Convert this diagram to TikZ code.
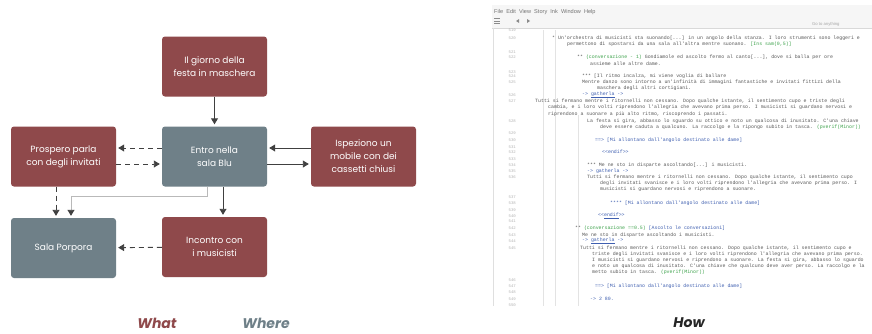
\documentclass[tikz,border=0pt]{standalone}
\usepackage{fontspec}
\usetikzlibrary{arrows.meta}
\newfontfamily\boxfont{Poppins}
\newfontfamily\codefont{Liberation Mono}
\newfontfamily\uifont{Liberation Sans}
\definecolor{whatred}{HTML}{8F494B}
\definecolor{wheregray}{HTML}{6F8088}
\definecolor{linkgray}{HTML}{404040}
\definecolor{inkgreen}{HTML}{3FA34D}
\definecolor{inkblue}{HTML}{3F5FB0}
\tikzset{
  what/.style={rectangle,rounded corners=3pt,fill=whatred,text=white,
    minimum width=105pt,minimum height=60pt,align=center,
    font=\boxfont\fontsize{9}{13}\selectfont},
  where/.style={what,fill=wheregray},
  link/.style={draw=linkgray,line width=0.9pt,shorten >=2pt,
    -{Triangle[width=7pt,length=6pt,color=linkgray]}},
  dlink/.style={link,dash pattern=on 5pt off 4pt},
  plink/.style={link,draw=gray!55},
  code/.style={anchor=west,inner sep=0pt,text=black!65,
    font=\codefont\fontsize{4.9}{5.5}\selectfont},
  lnum/.style={anchor=east,inner sep=0pt,text=black!30,
    font=\codefont\fontsize{4}{4}\selectfont},
  label/.style={font=\boxfont\bfseries\itshape\fontsize{14}{16}\selectfont}
}
\begin{document}
\begin{tikzpicture}[x=1pt,y=-1pt]
 \useasboundingbox[fill=white] (0,0) rectangle (872,333);
 % the plot graph
 \node[what]  (giorno)    at (214.5,66.5) {Il giorno della\\festa in maschera};
 \node[where] (entro)     at (214.5,156.5) {Entro nella\\sala Blu};
 \node[what]  (prospero)  at (63.5,156.5) {Prospero parla\\con degli invitati};
 \node[what]  (ispeziono) at (363.5,156.5) {Ispeziono un\\mobile con dei\\cassetti chiusi};
 \node[where] (porpora)   at (63.5,248) {Sala Porpora};
 \node[what]  (incontro)  at (214.5,247) {Incontro con\\i musicisti};
 \draw[link] (giorno) -- (entro);
 \draw[dlink] ([yshift=8.5pt]entro.west) -- ([yshift=8.5pt]prospero.east);
 \draw[dlink] ([yshift=-7.5pt]prospero.east) -- ([yshift=-7.5pt]entro.west);
 \draw[link] ([yshift=8.5pt]ispeziono.west) -- ([yshift=8.5pt]entro.east);
 \draw[link] ([yshift=-7.5pt]entro.east) -- ([yshift=-7.5pt]ispeziono.west);
 \draw[link] ([xshift=8.5pt]entro.south) -- ([xshift=8.5pt]incontro.north);
 \draw[plink] ([xshift=-7.5pt]entro.south) -- ++(0,10) -| ([xshift=7.5pt]porpora.north);
 \draw[dlink] ([xshift=-7.5pt]prospero.south) -- ([xshift=-7.5pt]porpora.north);
 \draw[dlink] (incontro) -- (porpora);
 \node[label,text=whatred]   (lwhat)  at (157,323) {What};
 \node[label,text=wheregray] (lwhere) at (266,323) {Where};
 \node[label,text=black!85]  (lhow)   at (689,323) {How};
 % the ink editor
 \fill[gray!7] (492,5) rectangle (872,28);
 \draw[gray!30,line width=0.4pt] (492,28) -- (872,28);
 \draw[gray!25,line width=0.4pt] (493,28) -- (493,306);
 \node[anchor=west,inner sep=0pt,text=black!55,font=\uifont\fontsize{5.6}{6}\selectfont]
   (menu) at (494,12) {File\ \ Edit\ \ View\ \ Story\ \ Ink\ \ Window\ \ Help};
 \draw[black!45,line width=0.5pt] (494,18.5) -- (500,18.5) (494,21) -- (500,21) (494,23.5) -- (500,23.5);
 \fill[black!45] (519,19) -- (519,23) -- (516,21) -- cycle;
 \fill[black!45] (527,19) -- (527,23) -- (530,21) -- cycle;
 \node[anchor=west,inner sep=0pt,text=black!35,font=\uifont\fontsize{4.2}{5}\selectfont]
   (goto) at (812,24) {Go to anything};
 \foreach \x/\ya in {543/30,555/30,578/115}
   \draw[gray!22,line width=0.3pt] (\x,\ya) -- (\x,306);
 \foreach \y/\n in {30/519,38/520,52/521,57/522,72/523,76/524,82/525,95/526,101/527,
   121/528,133/529,140/530,147/531,152/532,159/533,165/534,171/535,177/536,197/537,
   203/538,210/539,216/540,221/541,228/542,235/543,241/544,248/545,280/546,286/547,
   292/548,299/549,305/550}
   \node[lnum] at (516,\y) {\n};
 \node[code] at (552,38) {* Un'orchestra di musicisti sta suonando[...] in un angolo della stanza. I loro strumenti sono leggeri e};
 \node[code] at (567,44) {permettono di spostarsi da una sala all'altra mentre suonano. \textcolor{inkgreen}{[Ins sam(0,5)]}};
 \node[code] at (577,57) {** \textcolor{inkgreen}{(conversazione - 1)} Gondiamole ed ascolto fermo al canto[...], dove si balla per ore};
 \node[code] at (590,64) {assieme alle altre dame.};
 \node[code] at (582,76) {*** [Il ritmo incalza, mi viene voglia di ballare};
 \node[code] at (582,82) {Mentre danzo sono intorno a un'infinità di immagini fantastiche e invitati fittizi della};
 \node[code] at (597,88) {maschera degli altri cortigiani.};
 \node[code] at (582,95) {\textcolor{inkblue}{-> \underline{gatherla} ->}};
 \node[code] at (535,101) {Tutti si fermano mentre i ritornelli non cessano. Dopo qualche istante, il sentimento cupo e triste degli};
 \node[code] at (548,107) {cambia, e i loro volti riprendono l'allegria che avevano prima perso. I musicisti si guardano nervosi e};
 \node[code] at (548,114) {riprendono a suonare a più alto ritmo, riscoprendo i passati.};
 \node[code] at (587,121) {La festa si gira, abbasso lo sguardo su ottico e noto un qualcosa di inusitato. C'una chiave};
 \node[code] at (600,127) {deve essere caduta a qualcuno. La raccolgo e la ripongo subito in tasca. \textcolor{inkgreen}{(pverif(Minor))}};
 \node[code] at (595,140) {\textcolor{inkblue}{==> [Mi allontano dall'angolo destinato alle dame]}};
 \node[code] at (602,152) {\textcolor{inkblue}{<{}<endif>{}>}};
 \node[code] at (587,165) {*** Me ne sto in disparte ascoltando[...] i musicisti.};
 \node[code] at (587,171) {\textcolor{inkblue}{-> gatherla ->}};
 \node[code] at (587,177) {Tutti si fermano mentre i ritornelli non cessano. Dopo qualche istante, il sentimento cupo};
 \node[code] at (600,183) {degli invitati svanisce e i loro volti riprendono l'allegria che avevano prima perso. I};
 \node[code] at (600,189) {musicisti si guardano nervosi e riprendono a suonare.};
 \node[code] at (610,203) {\textcolor{inkblue}{**** [Mi allontano dall'angolo destinato alle dame]}};
 \node[code] at (598,216) {\textcolor{inkblue}{<{}<\underline{endif}>{}>}};
 \node[code] at (575,228) {** \textcolor{inkgreen}{(conversazione ==0.5)} \textcolor{inkblue}{[Ascolto le conversazioni]}};
 \node[code] at (582,235) {Me ne sto in disparte ascoltando i musicisti.};
 \node[code] at (582,241) {\textcolor{inkblue}{-> \underline{gatherla} ->}};
 \node[code] at (580,248) {Tutti si fermano mentre i ritornelli non cessano. Dopo qualche istante, il sentimento cupo e};
 \node[code] at (592,254) {triste degli invitati svanisce e i loro volti riprendono l'allegria che avevano prima perso.};
 \node[code] at (592,260) {I musicisti si guardano nervosi e riprendono a suonare. La festa si gira, abbasso lo sguardo};
 \node[code] at (592,266) {e noto un qualcosa di inusitato. C'una chiave che qualcuno deve aver perso. La raccolgo e la};
 \node[code] at (592,272) {metto subito in tasca. \textcolor{inkgreen}{(pverif(Minor))}};
 \node[code] at (595,286) {\textcolor{inkblue}{==> [Mi allontano dall'angolo destinato alle dame]}};
 \node[code] at (590,299) {\textcolor{inkblue}{-> 2 80.}};
\end{tikzpicture}
\end{document}
